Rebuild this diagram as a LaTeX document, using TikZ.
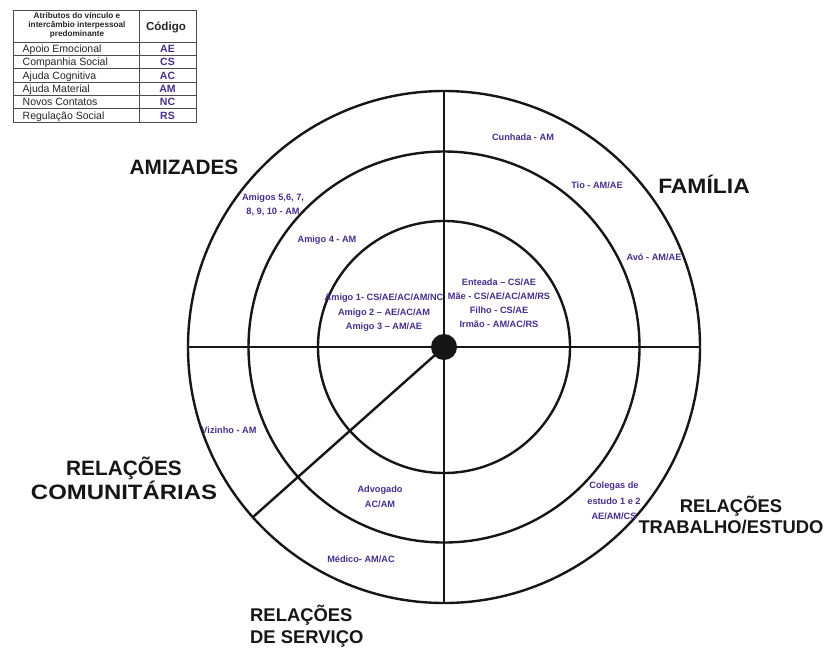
\documentclass[tikz,border=0pt]{standalone}
\usepackage{graphicx}
\usepackage{fontspec}
\setmainfont{Liberation Sans}
\definecolor{lab}{RGB}{72,46,140}
\definecolor{ink}{RGB}{22,22,22}
\begin{document}
\begin{tikzpicture}[x=1pt,y=-1pt,
  ring/.style={line width=2.4pt, draw=ink},
  sectorbig/.style={font=\fontsize{20.8}{24}\selectfont\bfseries, text=ink, align=center, inner sep=0pt},
  sectorsm/.style={font=\fontsize{18.4}{21.5}\selectfont\bfseries, text=ink, align=center, inner sep=0pt},
  lbl/.style={font=\fontsize{9.2}{14.5}\selectfont\bfseries, text=lab, align=center, inner sep=0pt},
  grid/.style={draw=black!70, line width=0.8pt},
  rowtxt/.style={font=\fontsize{10.5}{12}\selectfont, text=black!85, anchor=base west, inner sep=0pt},
  codetxt/.style={font=\fontsize{10.5}{12}\selectfont\bfseries, text=lab, anchor=base, inner sep=0pt}]
\useasboundingbox (0,0) rectangle (826,651);
\fill[white] (0,0) rectangle (826,651);

% legend table
\draw[grid] (13,10) rectangle (196,122);
\draw[grid] (139,10) -- (139,122);
\foreach \yy in {42,55.3,68.6,82,95.3,108.6} \draw[grid] (13,\yy) -- (196,\yy);
\node[font=\fontsize{8.2}{9}\selectfont\bfseries, text=black!85, align=center, inner sep=0pt] (hdr) at (77,25.5) {Atributos do vínculo e\\intercâmbio interpessoal\\predominante};
\node[font=\fontsize{11.6}{13}\selectfont\bfseries, text=black!85, inner sep=0pt] (hcod) at (166,27.5) {Código};
\node[rowtxt] (r1) at (22.5,52.6) {Apoio Emocional};
\node[rowtxt] (r2) at (22.5,65.9) {Companhia Social};
\node[rowtxt] (r3) at (22.5,79.2) {Ajuda Cognitiva};
\node[rowtxt] (r4) at (22.5,92.6) {Ajuda Material};
\node[rowtxt] (r5) at (22.5,105.9) {Novos Contatos};
\node[rowtxt] (r6) at (22.5,119.2) {Regulação Social};
\node[codetxt] (c1) at (167.5,52.6) {AE};
\node[codetxt] (c2) at (167.5,65.9) {CS};
\node[codetxt] (c3) at (167.5,79.2) {AC};
\node[codetxt] (c4) at (167.5,92.6) {AM};
\node[codetxt] (c5) at (167.5,105.9) {NC};
\node[codetxt] (c6) at (167.5,119.2) {RS};

% map
\coordinate (c) at (444,347);
\coordinate (d) at (253,517);
\draw[ring] (c) circle[radius=256pt];
\draw[ring] (c) circle[radius=195.5pt];
\draw[ring] (c) circle[radius=126pt];
\draw[ring] (444,91) -- (444,603);
\draw[ring] (188,347) -- (700,347);
\draw[ring] (c) -- (d);
\fill[ink] (c) circle[radius=13pt];

% sector titles
\node[sectorbig] (amiz) at (184,167) {AMIZADES};
\node[sectorbig] (fam) at (704,184) {\scalebox{1.1}[1]{FAMÍLIA}};
\node[sectorbig] (com) at (124,478) {RELAÇÕES\\\scalebox{1.15}[1]{COMUNITÁRIAS}};
\node[sectorsm] (trab) at (731,515) {RELAÇÕES\\TRABALHO/ESTUDO};
\node[sectorsm, align=left, anchor=west] (serv) at (250,626) {RELAÇÕES\\DE SERVIÇO};

% labels
\node[lbl] (cunhada) at (523,137) {Cunhada - AM};
\node[lbl] (tio) at (597,185) {Tio - AM/AE};
\node[lbl] (avo) at (654,257) {Avó - AM/AE};
\node[lbl] (amigos5) at (273,205) {Amigos 5,6, 7,\\8, 9, 10 - AM};
\node[lbl] (amigo4) at (327,240) {Amigo 4 - AM};
\node[lbl] (amigos13) at (384,313) {Amigo 1- CS/AE/AC/AM/NC\\Amigo 2 – AE/AC/AM\\Amigo 3 – AM/AE};
\node[lbl, font=\fontsize{9.2}{14}\selectfont\bfseries] (familia) at (499,303) {Enteada – CS/AE\\Mãe - CS/AE/AC/AM/RS\\Filho - CS/AE\\Irmão - AM/AC/RS};
\node[lbl] (vizinho) at (229,430) {Vizinho - AM};
\node[lbl, font=\fontsize{9.2}{15}\selectfont\bfseries] (advogado) at (380,497) {Advogado\\AC/AM};
\node[lbl] (medico) at (361,559) {Médico- AM/AC};
\node[lbl, font=\fontsize{9.2}{15.5}\selectfont\bfseries] (colegas) at (614,501) {Colegas de\\estudo 1 e 2\\AE/AM/CS};
\end{tikzpicture}
\end{document}
